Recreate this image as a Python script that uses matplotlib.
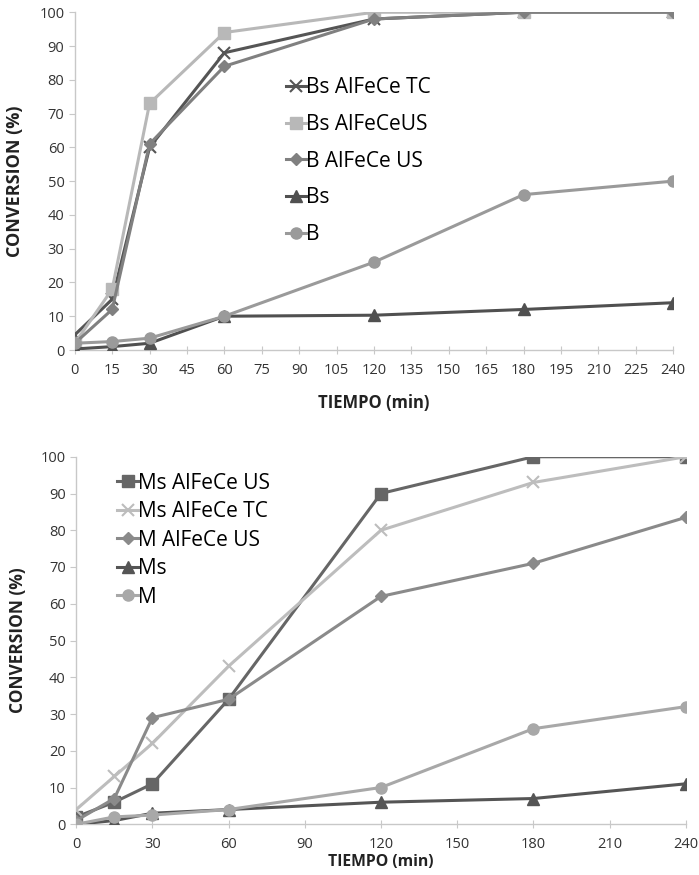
import matplotlib
matplotlib.use("Agg")
import matplotlib.pyplot as plt

plt.rcParams['font.family'] = ['Open Sans', 'DejaVu Sans']

# top chart
tiempo = [0, 15, 30, 60, 120, 180, 240]
bs_alfece_tc = [4.5, 15, 60, 88, 98, 100, 100]
bs_alfece_us = [2, 18, 73, 94, 100, 100, 100]
b_alfece_us = [2, 12, 61, 84, 98, 100, 100]
bs = [0.3, 1, 2, 10, 10.3, 12, 14]
b = [2, 2.5, 3.5, 10, 26, 46, 50]

# bottom chart
ms_alfece_us = [2, 6, 11, 34, 90, 100, 100]
ms_alfece_tc = [4, 13, 22, 43, 80, 93, 100]
m_alfece_us = [1, 7, 29, 34, 62, 71, 83.5]
ms = [0, 1, 3, 4, 6, 7, 11]
m = [0, 2, 2.5, 4, 10, 26, 32]


def style_axes(ax, xticks, ysize, xsize):
    for s in ['top', 'right']:
        ax.spines[s].set_visible(False)
    for s in ['left', 'bottom']:
        ax.spines[s].set_color('#c8c8c8')
        ax.spines[s].set_linewidth(1.0)
    ax.set_ylim(0, 100)
    ax.set_xlim(0, 240)
    ax.set_yticks(range(0, 101, 10))
    ax.set_xticks(xticks)
    ax.tick_params(axis='both', colors='#c8c8c8', labelcolor='#333333', labelsize=10.5)
    ax.tick_params(axis='x', direction='inout', length=6, pad=6)
    ax.tick_params(axis='y', length=4)
    ax.set_ylabel('CONVERSION (%)', fontsize=ysize, fontweight='bold', color='#222222')
    ax.set_xlabel('TIEMPO (min)', fontsize=xsize, fontweight='bold', color='#222222')
    for sp in ax.spines.values():
        sp.set_zorder(0)


fig = plt.figure(figsize=(6.99, 8.75), dpi=100)

ax1 = fig.add_axes([0.107, 0.6, 0.856, 0.386])
ax1.plot(tiempo, bs_alfece_tc, color='#555555', lw=2.2, marker='x', ms=8, mew=1.5, label='Bs AlFeCe TC')
ax1.plot(tiempo, bs_alfece_us, color='#b8b8b8', lw=2.2, marker='s', ms=8, label='Bs AlFeCeUS')
ax1.plot(tiempo, b_alfece_us, color='#808080', lw=2.2, marker='D', ms=6, label='B AlFeCe US')
ax1.plot(tiempo, bs, color='#505050', lw=2.2, marker='^', ms=8, label='Bs')
ax1.plot(tiempo, b, color='#9a9a9a', lw=2.2, marker='o', ms=8, label='B')
style_axes(ax1, range(0, 241, 15), 13, 12)
ax1.xaxis.set_label_coords(0.5, -0.13)
ax1.yaxis.set_label_coords(-0.085, 0.5)
ax1.legend(loc='upper left', bbox_to_anchor=(0.335, 0.838), frameon=False, fontsize=15,
           handlelength=1.0, handletextpad=0.0, labelspacing=0.75, borderpad=0)

ax2 = fig.add_axes([0.109, 0.058, 0.872, 0.42])
ax2.plot(tiempo, ms_alfece_us, color='#666666', lw=2.2, marker='s', ms=8, label='Ms AlFeCe US')
ax2.plot(tiempo, ms_alfece_tc, color='#bdbdbd', lw=2.2, marker='x', ms=9, mew=1.5, label='Ms AlFeCe TC')
ax2.plot(tiempo, m_alfece_us, color='#8a8a8a', lw=2.2, marker='D', ms=6, label='M AlFeCe US')
ax2.plot(tiempo, ms, color='#555555', lw=2.2, marker='^', ms=8, label='Ms')
ax2.plot(tiempo, m, color='#a8a8a8', lw=2.2, marker='o', ms=8, label='M')
style_axes(ax2, range(0, 241, 30), 12.5, 11.3)
ax2.xaxis.set_label_coords(0.5, -0.082)
ax2.yaxis.set_label_coords(-0.08, 0.5)
ax2.legend(loc='upper left', bbox_to_anchor=(0.05, 0.985), frameon=False, fontsize=15,
           handlelength=1.0, handletextpad=0.0, labelspacing=0.36, borderpad=0)

fig.savefig('out.png', dpi=100)
